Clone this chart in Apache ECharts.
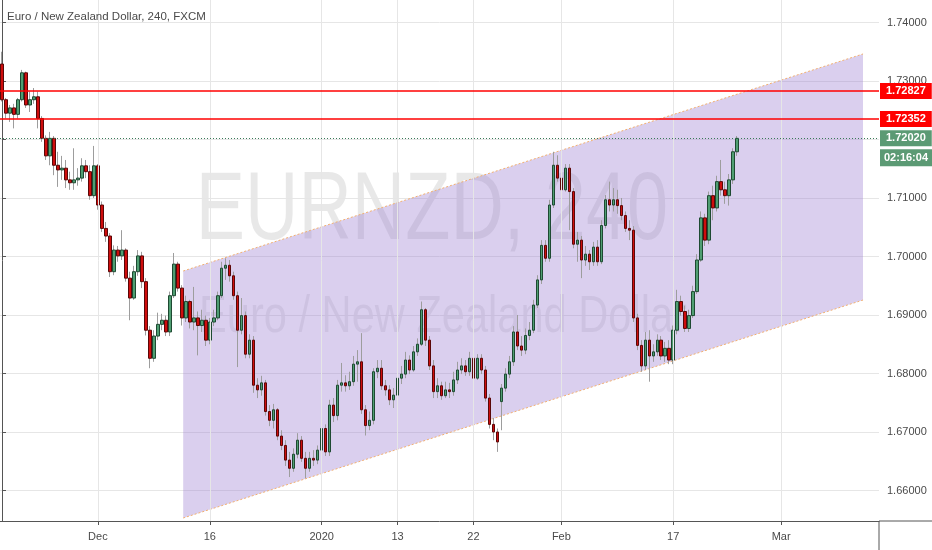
<!DOCTYPE html>
<html><head><meta charset="utf-8">
<script src="https://cdn.jsdelivr.net/npm/echarts@6/dist/echarts.min.js"></script>
<style>html,body{margin:0;padding:0;background:#fff}#c{width:932px;height:550px}</style>
</head><body><div id="c"></div>
<script>
// ---- data (4h candles, EUR/NZD) ----
const opens=[
1.7329,1.7268,1.7245,1.7254,1.7243,1.7268,1.7314,1.7259,1.7268,1.7273,
1.7236,1.7202,1.7172,1.7202,1.7156,1.7148,1.7151,1.7131,1.7126,1.7131,
1.7134,1.7155,1.7145,1.7104,1.7155,1.7088,1.7048,1.7035,1.6974,1.7011,
1.7001,1.7011,1.6963,1.6929,1.6974,1.7001,1.6957,1.6874,1.6826,1.6864,
1.6884,1.6891,1.6871,1.6933,1.6987,1.6946,1.6895,1.6923,1.6888,1.6895,
1.6882,1.6891,1.6857,1.6888,1.6895,1.6933,1.6980,1.6985,1.6967,1.6933,
1.6874,1.6899,1.6833,1.6857,1.6780,1.6772,1.6784,1.6735,1.6720,1.6738,
1.6693,1.6677,1.6652,1.6638,1.6662,1.6686,1.6655,1.6638,1.6655,1.6652,
1.6669,1.6706,1.6666,1.6746,1.6728,1.6780,1.6784,1.6779,1.6786,1.6816,
1.6820,1.6738,1.6711,1.6720,1.6803,1.6809,1.6779,1.6772,1.6755,1.6763,
1.6792,1.6799,1.6823,1.6806,1.6837,1.6850,1.6909,1.6857,1.6813,1.6769,
1.6779,1.6762,1.6772,1.6769,1.6789,1.6806,1.6813,1.6803,1.6826,1.6792,
1.6826,1.6806,1.6758,1.6713,1.6700,1.6752,1.6775,1.6799,1.6820,1.6871,
1.6847,1.6840,1.6865,1.6874,1.6917,1.6960,1.7019,1.6997,1.7088,1.7156,
1.7134,1.7114,1.7151,1.7111,1.7021,1.7028,1.6994,1.7004,1.6991,1.7016,
1.6991,1.7053,1.7097,1.7088,1.7097,1.7087,1.7070,1.7048,1.7045,1.6895,
1.6848,1.6813,1.6857,1.6830,1.6837,1.6857,1.6830,1.6843,1.6823,1.6874,
1.6923,1.6906,1.6877,1.6899,1.6940,1.6994,1.7066,1.7028,1.7104,1.7083,
1.7128,1.7114,1.7104,1.7131,1.7179];
const closes=[
1.7268,1.7245,1.7254,1.7243,1.7268,1.7314,1.7259,1.7268,1.7273,1.7236,
1.7202,1.7172,1.7202,1.7156,1.7148,1.7151,1.7131,1.7126,1.7131,1.7134,
1.7155,1.7145,1.7104,1.7155,1.7088,1.7048,1.7035,1.6974,1.7011,1.7001,
1.7011,1.6963,1.6929,1.6974,1.7001,1.6957,1.6874,1.6826,1.6864,1.6884,
1.6891,1.6871,1.6933,1.6987,1.6946,1.6895,1.6923,1.6888,1.6895,1.6882,
1.6891,1.6857,1.6888,1.6895,1.6933,1.6980,1.6985,1.6967,1.6933,1.6874,
1.6899,1.6833,1.6857,1.6780,1.6772,1.6784,1.6735,1.6720,1.6738,1.6693,
1.6677,1.6652,1.6638,1.6662,1.6686,1.6655,1.6638,1.6655,1.6652,1.6669,
1.6706,1.6666,1.6746,1.6728,1.6780,1.6784,1.6779,1.6786,1.6816,1.6820,
1.6738,1.6711,1.6720,1.6803,1.6809,1.6779,1.6772,1.6755,1.6763,1.6792,
1.6799,1.6823,1.6806,1.6837,1.6850,1.6909,1.6857,1.6813,1.6769,1.6779,
1.6762,1.6772,1.6769,1.6789,1.6806,1.6813,1.6803,1.6826,1.6792,1.6826,
1.6806,1.6758,1.6713,1.6700,1.6683,1.6775,1.6799,1.6820,1.6871,1.6847,
1.6840,1.6865,1.6874,1.6917,1.6960,1.7019,1.6997,1.7088,1.7156,1.7134,
1.7114,1.7151,1.7111,1.7021,1.7028,1.6994,1.7004,1.6991,1.7016,1.6991,
1.7053,1.7097,1.7088,1.7097,1.7087,1.7070,1.7048,1.7045,1.6895,1.6848,
1.6813,1.6857,1.6830,1.6837,1.6857,1.6830,1.6843,1.6823,1.6874,1.6923,
1.6906,1.6877,1.6899,1.6940,1.6994,1.7066,1.7028,1.7104,1.7083,1.7128,
1.7114,1.7104,1.7131,1.7179,1.7202];
const lows=[
1.7265,1.7236,1.7230,1.7219,1.7236,1.7265,1.7254,1.7247,1.7261,1.7219,
1.7196,1.7165,1.7156,1.7139,1.7119,1.7131,1.7117,1.7114,1.7114,1.7121,
1.7128,1.7134,1.7097,1.7100,1.7080,1.7042,1.7025,1.6965,1.6968,1.6991,
1.6994,1.6957,1.6891,1.6926,1.6967,1.6946,1.6865,1.6809,1.6820,1.6857,
1.6874,1.6864,1.6864,1.6929,1.6940,1.6882,1.6888,1.6877,1.6874,1.6831,
1.6871,1.6847,1.6850,1.6881,1.6891,1.6929,1.6960,1.6957,1.6926,1.6811,
1.6867,1.6826,1.6826,1.6767,1.6758,1.6762,1.6728,1.6710,1.6706,1.6686,
1.6669,1.6642,1.6623,1.6632,1.6655,1.6649,1.6621,1.6632,1.6642,1.6645,
1.6666,1.6659,1.6659,1.6717,1.6720,1.6769,1.6769,1.6772,1.6779,1.6786,
1.6731,1.6694,1.6703,1.6713,1.6792,1.6772,1.6762,1.6746,1.6741,1.6755,
1.6782,1.6792,1.6799,1.6803,1.6830,1.6847,1.6847,1.6806,1.6758,1.6758,
1.6755,1.6758,1.6758,1.6762,1.6782,1.6799,1.6796,1.6796,1.6786,1.6789,
1.6799,1.6752,1.6706,1.6686,1.6666,1.6703,1.6769,1.6792,1.6813,1.6840,
1.6830,1.6833,1.6857,1.6869,1.6912,1.6953,1.6991,1.6991,1.7083,1.7128,
1.7104,1.7111,1.7045,1.7014,1.6991,1.6963,1.6984,1.6977,1.6984,1.6984,
1.6987,1.7048,1.7077,1.7077,1.7073,1.7062,1.7042,1.7028,1.6888,1.6840,
1.6803,1.6806,1.6786,1.6820,1.6830,1.6823,1.6820,1.6816,1.6816,1.6867,
1.6899,1.6871,1.6871,1.6895,1.6936,1.6991,1.7018,1.7021,1.7062,1.7077,
1.7104,1.7090,1.7087,1.7124,1.7172];
const highs=[
1.7350,1.7271,1.7259,1.7261,1.7271,1.7319,1.7316,1.7282,1.7288,1.7282,
1.7240,1.7207,1.7213,1.7206,1.7179,1.7172,1.7165,1.7145,1.7185,1.7151,
1.7168,1.7165,1.7156,1.7189,1.7158,1.7094,1.7059,1.7040,1.7019,1.7018,
1.7045,1.7014,1.6974,1.6984,1.7011,1.7008,1.6963,1.6881,1.6874,1.6904,
1.6902,1.6899,1.6940,1.7006,1.6991,1.6951,1.6933,1.6926,1.6948,1.6906,
1.6909,1.6899,1.6895,1.6909,1.6940,1.6991,1.6997,1.6994,1.6974,1.6940,
1.6929,1.6906,1.6867,1.6864,1.6792,1.6796,1.6789,1.6746,1.6748,1.6741,
1.6703,1.6686,1.6666,1.6672,1.6698,1.6693,1.6666,1.6666,1.6669,1.6677,
1.6717,1.6713,1.6755,1.6758,1.6789,1.6818,1.6797,1.6803,1.6830,1.6840,
1.6869,1.6746,1.6735,1.6809,1.6823,1.6823,1.6789,1.6780,1.6775,1.6803,
1.6813,1.6837,1.6831,1.6847,1.6860,1.6923,1.6912,1.6864,1.6823,1.6792,
1.6786,1.6786,1.6784,1.6803,1.6820,1.6826,1.6823,1.6837,1.6837,1.6833,
1.6833,1.6813,1.6765,1.6724,1.6706,1.6782,1.6809,1.6830,1.6881,1.6900,
1.6864,1.6877,1.6888,1.6926,1.6968,1.7028,1.7028,1.7097,1.7179,1.7173,
1.7165,1.7158,1.7158,1.7117,1.7042,1.7035,1.7018,1.7011,1.7025,1.7028,
1.7062,1.7105,1.7128,1.7117,1.7114,1.7100,1.7077,1.7062,1.7052,1.6902,
1.6857,1.6871,1.6874,1.6850,1.6867,1.6864,1.6854,1.6857,1.6882,1.6943,
1.6933,1.6916,1.6909,1.6950,1.7004,1.7077,1.7073,1.7111,1.7121,1.7138,
1.7165,1.7128,1.7141,1.7185,1.7206];

const slotCount = 220;                       // candle slots incl. empty right margin
const dateTickIdx  = [24, 52, 80, 99, 118, 140, 168, 195];
const dateTickText = ['Dec', '16', '2020', '13', '22', 'Feb', '17', 'Mar'];
const priceTicks = [1.66, 1.67, 1.68, 1.69, 1.70, 1.71, 1.72, 1.73, 1.74];
const yMin = 1.654786, yMax = 1.743846;
const levelLines = [1.72827, 1.72352];
const lastPrice = 1.72020;
const countdown = '02:16:04';
const chanX   = [45.35, 215.5];
const chanTop = [1.69752, 1.73462];
const chanBot = [1.65530, 1.69256];
const titleText = 'Euro / New Zealand Dollar, 240, FXCM';
const wmBig = 'EURNZD, 240';
const wmSmall = 'Euro / New Zealand Dollar';

// ---- chart ----
const FONT = "'Liberation Sans', Arial, sans-serif";
const cats = Array.from({length: slotCount}, (_, i) => String(i));
const labelAt = {};
dateTickIdx.forEach((k, j) => { labelAt[k] = dateTickText[j]; });

const full = opens.map((o, i) => [o, closes[i], lows[i], highs[i]]);
const bodies = opens.map((o, i) => [o, closes[i], Math.min(o, closes[i]), Math.max(o, closes[i])]);

const chart = echarts.init(document.getElementById('c'));
const lvlLabel = (bg) => ({
  show: true, position: 'end', distance: 1,
  formatter: (p) => p.value.toFixed(5),
  backgroundColor: bg, color: '#fff', fontWeight: 'bold', fontSize: 11,
  fontFamily: FONT, padding: [3, 6, 2, 6]
});

chart.setOption({
  animation: false,
  backgroundColor: '#ffffff',
  title: {
    text: titleText, left: 2, top: 6,
    textStyle: {fontSize: 11.5, fontWeight: 'normal', color: '#4a4a4a', fontFamily: FONT}
  },
  grid: {left: 0, right: 53, top: 0, bottom: 29, outerBoundsMode: 'none', containLabel: false},
  xAxis: [{
    // category axis that places the candles (hidden)
    type: 'category', data: cats, boundaryGap: true, show: false,
    axisLine: {show: false}, axisTick: {show: false}, axisLabel: {show: false},
    splitLine: {show: false}, splitArea: {show: false}
  }, {
    // visible date axis over the same slots
    type: 'value', position: 'bottom', min: -0.5, max: slotCount - 0.5,
    axisLine: {show: true, onZero: false, lineStyle: {color: '#555', width: 1}},
    axisTick: {show: true, length: 4, customValues: dateTickIdx, lineStyle: {color: '#555'}},
    axisLabel: {customValues: dateTickIdx, formatter: (v) => labelAt[Math.round(v)] || '', color: '#4a4a4a',
      fontSize: 11, fontFamily: FONT, margin: 10},
    splitLine: {show: false}
  }],
  yAxis: {
    type: 'value', position: 'right', min: yMin, max: yMax,
    axisLine: {show: true, lineStyle: {color: '#555'}},
    axisTick: {show: true, length: 4, customValues: priceTicks, lineStyle: {color: '#555'}},
    axisLabel: {customValues: priceTicks, formatter: (v) => v.toFixed(5), color: '#4a4a4a',
      fontSize: 11, fontFamily: FONT, margin: 8},
    splitLine: {show: true, lineStyle: {color: '#e6e6e6'}}
  },
  series: [{
    // vertical date grid lines
    type: 'line', xAxisIndex: 1, yAxisIndex: 0, z: 0, silent: true, data: [],
    markLine: {
      silent: true, symbol: ['none', 'none'], animation: false, label: {show: false},
      lineStyle: {color: '#e6e6e6', width: 1, type: 'solid'},
      data: dateTickIdx.map((v) => ({xAxis: v}))
    }
  }, {
    type: 'custom', xAxisIndex: 1, yAxisIndex: 0, z: 1, silent: true,
    data: [[chanX[0], chanTop[0]]],
    renderItem: (params, api) => {
      const a = api.coord([chanX[0], chanTop[0]]);
      const b = api.coord([chanX[1], chanTop[1]]);
      const c = api.coord([chanX[1], chanBot[1]]);
      const d = api.coord([chanX[0], chanBot[0]]);
      return {type: 'group', children: [
        {type: 'polygon', shape: {points: [a, b, c, d]}, style: {fill: 'rgba(149,117,205,0.35)'}},
        {type: 'line', shape: {x1: a[0], y1: a[1], x2: b[0], y2: b[1]},
          style: {stroke: '#f3b070', lineWidth: 1, lineDash: [2, 2]}},
        {type: 'line', shape: {x1: d[0], y1: d[1], x2: c[0], y2: c[1]},
          style: {stroke: '#f3b070', lineWidth: 1, lineDash: [2, 2]}}
      ]};
    }
  }, {
    type: 'candlestick', name: 'wicks', xAxisIndex: 0, yAxisIndex: 0, z: 2, silent: true,
    barWidth: 1, data: full,
    itemStyle: {color: '#9d9d9d', color0: '#9d9d9d', borderColor: '#9d9d9d', borderColor0: '#9d9d9d', borderWidth: 1}
  }, {
    type: 'candlestick', name: 'bodies', xAxisIndex: 0, yAxisIndex: 0, z: 3, silent: true,
    barWidth: 3, data: bodies,
    itemStyle: {color: '#4f9e72', color0: '#cf0d0d', borderColor: '#1e4a32', borderColor0: '#5a0808', borderWidth: 1},
    markLine: {
      silent: true, symbol: ['none', 'none'], animation: false, precision: 5,
      data: [
        {yAxis: levelLines[0], lineStyle: {color: '#ff0000', width: 1.5, type: 'solid'}, label: lvlLabel('#ff0000')},
        {yAxis: levelLines[1], lineStyle: {color: '#ff0000', width: 1.5, type: 'solid'}, label: lvlLabel('#ff0000')},
        {yAxis: lastPrice, lineStyle: {color: '#3a7a58', width: 1, type: [1, 2]}, label: lvlLabel('#5b9a74')}
      ]
    }
  }]
});

const xR = chart.convertToPixel({xAxisIndex: 1}, slotCount - 0.5);
const yB = chart.convertToPixel({yAxisIndex: 0}, yMin);
const yL = chart.convertToPixel({yAxisIndex: 0}, lastPrice);
chart.setOption({
  graphic: [
    {type: 'text', x: 432, y: 213, z: -10, silent: true, scaleX: 0.77,
      style: {text: wmBig, font: "96px 'Liberation Sans'", fill: 'rgba(0,0,0,0.09)', align: 'center', verticalAlign: 'middle'}},
    {type: 'text', x: 443, y: 318, z: -10, silent: true, scaleX: 0.8,
      style: {text: wmSmall, font: "52px 'Liberation Sans'", fill: 'rgba(0,0,0,0.08)', align: 'center', verticalAlign: 'middle'}},
    {type: 'line', z: 50, silent: true, shape: {x1: xR, y1: yB, x2: 932, y2: yB}, style: {stroke: '#555', lineWidth: 1}},
    {type: 'line', z: 50, silent: true, shape: {x1: xR, y1: yB, x2: xR, y2: 550}, style: {stroke: '#555', lineWidth: 1}},
    {type: 'rect', z: 50, silent: true, shape: {x: xR + 1, y: yL + 11, width: 932 - xR, height: 17}, style: {fill: '#5b9a74'}},
    {type: 'text', z: 51, silent: true, x: (xR + 933) / 2, y: yL + 20,
      style: {text: countdown, font: "bold 11px " + FONT, fill: '#fff', align: 'center', verticalAlign: 'middle'}}
  ]
});
</script>
</body></html>
